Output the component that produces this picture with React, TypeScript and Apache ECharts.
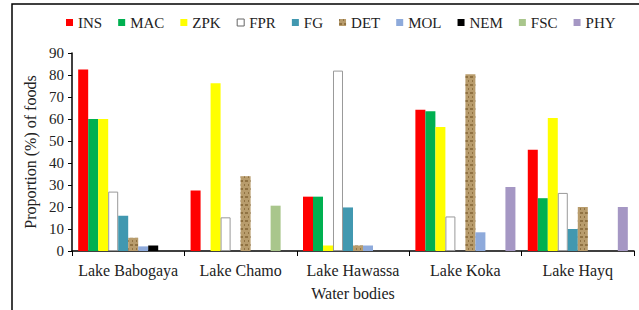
import React, { useEffect, useRef } from "react";
import * as echarts from "echarts";

const categories = ["Lake Babogaya", "Lake Chamo", "Lake Hawassa", "Lake Koka", "Lake Hayq"];
const seriesNames = ["INS", "MAC", "ZPK", "FPR", "FG", "DET", "MOL", "NEM", "FSC", "PHY"];
const INS = [82.5, 27.5, 24.7, 64.2, 46];
const MAC = [60, 0, 24.7, 63.5, 24];
const ZPK = [60, 76.2, 2.5, 56.4, 60.4];
const FPR = [27, 15.3, 82, 15.7, 26.4];
const FG = [16, 0, 19.8, 0, 10];
const DET = [6, 34, 2.5, 80.3, 20];
const MOL = [2.1, 0, 2.5, 8.5, 0];
const NEM = [2.5, 0, 0, 0, 0];
const FSC = [0, 20.6, 0, 0, 0];
const PHY = [0, 0, 0, 29.1, 20];
const yTicks = [0, 10, 20, 30, 40, 50, 60, 70, 80, 90];

const dataSets = [INS, MAC, ZPK, FPR, FG, DET, MOL, NEM, FSC, PHY];
const colors = ["#ff0000", "#00b050", "#ffff00", "#ffffff", "#4198b0", "#b89c6c", "#8eaadb", "#000000", "#a9c68c", "#a597c4"];
const FONT = "'Liberation Serif', 'Times New Roman', serif";

export default function App() {
  const ref = useRef<HTMLDivElement>(null);
  useEffect(() => {
    const chart = echarts.init(ref.current!, undefined, { renderer: "svg" });
    const series = seriesNames.map((name, i) => {
      const itemStyle: any = { color: colors[i] };
      if (name === "FPR") {
        itemStyle.borderColor = "#999999";
        itemStyle.borderWidth = 1;
      }
      if (name === "DET") {
        itemStyle.decal = {
          symbol: "rect",
          symbolSize: 1,
          color: "rgba(110,80,30,0.55)",
          dashArrayX: [[3, 2], [1, 3]],
          dashArrayY: [2, 2],
          rotation: 0,
        };
      }
      return {
        name,
        type: "bar",
        data: dataSets[i],
        barGap: "0%",
        barCategoryGap: "11%",
        itemStyle,
        silent: true,
      };
    });
    chart.setOption({
      animation: false,
      color: colors,
      textStyle: { fontFamily: FONT },
      grid: { left: 72, right: 5, top: 53, bottom: 59, containLabel: false },
      legend: {
        left: 61,
        top: 10,
        icon: "rect",
        itemWidth: 7,
        itemHeight: 7,
        itemGap: 16,
        textStyle: { fontFamily: FONT, fontSize: 15, color: "#222" },
        data: seriesNames.map((n) =>
          n === "FPR"
            ? { name: n, itemStyle: { color: "#fff", borderColor: "#666", borderWidth: 1 } }
            : { name: n }
        ),
      },
      xAxis: {
        type: "category",
        data: categories,
        name: "Water bodies",
        nameLocation: "middle",
        nameGap: 34,
        nameTextStyle: { fontFamily: FONT, fontSize: 16, color: "#222" },
        axisLine: { lineStyle: { color: "#000", width: 1.5 } },
        axisTick: { show: true, length: 5, lineStyle: { color: "#000" } },
        axisLabel: { fontFamily: FONT, fontSize: 16, color: "#222", margin: 11, interval: 0 },
      },
      yAxis: {
        type: "value",
        min: yTicks[0],
        max: yTicks[yTicks.length - 1],
        interval: 10,
        name: "Proportion (%) of foods",
        nameLocation: "middle",
        nameGap: 32,
        nameRotate: 90,
        nameTextStyle: { fontFamily: FONT, fontSize: 16, color: "#222" },
        axisLine: { show: true, lineStyle: { color: "#000", width: 1.5 } },
        axisTick: { show: true, length: 4, lineStyle: { color: "#000" } },
        axisLabel: { fontFamily: FONT, fontSize: 15, color: "#222", margin: 8 },
        splitLine: { show: false },
      },
      graphic: [
        {
          type: "rect",
          shape: { x: 12, y: 4, width: 640, height: 330 },
          style: { fill: "none", stroke: "#000", lineWidth: 1.5 },
          silent: true,
        },
      ],
      series,
    });
    return () => chart.dispose();
  }, []);
  return <div ref={ref} style={{ width: 639, height: 310, position: "absolute", left: 0, top: 0 }} />;
}
